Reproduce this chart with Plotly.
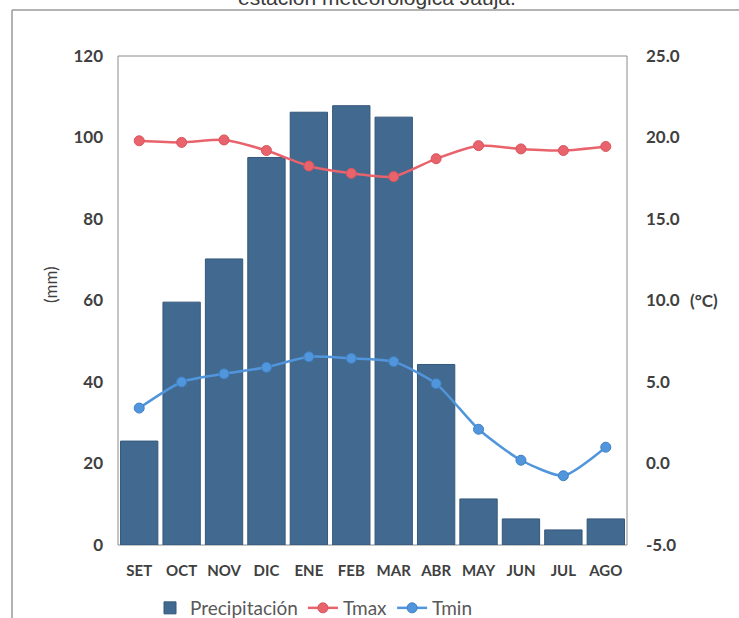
import plotly.graph_objects as go

# Monthly climate data (hydrological year, Sept to Aug)
months = ["SET", "OCT", "NOV", "DIC", "ENE", "FEB", "MAR", "ABR", "MAY", "JUN", "JUL", "AGO"]
precipitacion = [25.5, 59.6, 70.2, 95.1, 106.2, 107.8, 105.0, 44.3, 11.3, 6.4, 3.7, 6.4]
tmax = [19.8, 19.7, 19.85, 19.2, 18.25, 17.8, 17.6, 18.7, 19.5, 19.3, 19.2, 19.45]
tmin = [3.4, 5.0, 5.5, 5.9, 6.55, 6.45, 6.25, 4.9, 2.1, 0.2, -0.75, 1.0]

precip_ticks = [0, 20, 40, 60, 80, 100, 120]
temp_ticks = [-5, 0, 5, 10, 15, 20, 25]
temp_labels = [f"{v:.1f}" for v in temp_ticks]

BAR = "#426a90"
RED = "#e8636b"
BLUE = "#5196dc"
TXT = "#404040"

tick_font = dict(family="Lato", size=17, color=TXT, weight="bold")

fig = go.Figure()

fig.add_trace(go.Bar(
    x=months, y=precipitacion, name="Precipitación",
    marker=dict(color=BAR, line=dict(color="#34577a", width=1)),
    yaxis="y",
))
fig.add_trace(go.Scatter(
    x=months, y=tmax, name="Tmax", mode="lines+markers",
    line=dict(color=RED, width=2.5, shape="spline", smoothing=0.6),
    marker=dict(size=10, color=RED, line=dict(color="#d9545c", width=1)),
    yaxis="y2",
))
fig.add_trace(go.Scatter(
    x=months, y=tmin, name="Tmin", mode="lines+markers",
    line=dict(color=BLUE, width=2.5, shape="spline", smoothing=0.6),
    marker=dict(size=10, color=BLUE, line=dict(color="#3f80c4", width=1)),
    yaxis="y2",
))

# Pixel helpers for placing frame/labels relative to the plot area
W, H = 739, 618
L, R, T, B = 118, 112, 56, 73
PW, PH = W - L - R, H - T - B


def px_x(px):
    return (px - L) / PW


def px_y(py):
    return (H - B - py) / PH


fig.update_layout(
    width=W, height=H,
    margin=dict(l=L, r=R, t=T, b=B, autoexpand=False),
    paper_bgcolor="white", plot_bgcolor="white",
    bargap=0.12,
    showlegend=True,
    legend=dict(
        orientation="h", x=px_x(150), xanchor="left", y=px_y(589), yanchor="top",
        font=dict(family="Lato", size=19, color="#595959"),
        itemwidth=30, tracegroupgap=0, bgcolor="rgba(0,0,0,0)",
    ),
    xaxis=dict(
        type="category", range=[-0.5, 11.5], showgrid=False, zeroline=False,
        showline=False, ticks="", tickfont=dict(family="Lato", size=15, color=TXT, weight="bold"),
        ticklabelstandoff=15,
    ),
    yaxis=dict(
        range=[0, 120], tickvals=precip_ticks, showgrid=False, zeroline=False,
        showline=False, ticks="", tickfont=tick_font, ticklabelstandoff=14,
    ),
    yaxis2=dict(
        range=[-5, 25], tickvals=temp_ticks, ticktext=temp_labels, overlaying="y", side="right",
        showgrid=False, zeroline=False, showline=False, ticks="",
        tickfont=tick_font, ticklabelstandoff=18,
    ),
    shapes=[
        # plot-area border
        dict(type="rect", xref="paper", yref="paper", x0=0, x1=1, y0=0, y1=1,
             line=dict(color="#8c8c8c", width=1), layer="below"),
        # outer chart frame
        dict(type="line", xref="paper", yref="paper", x0=px_x(12), x1=px_x(760),
             y0=px_y(10), y1=px_y(10), line=dict(color="#9a9a9a", width=1.5)),
        dict(type="line", xref="paper", yref="paper", x0=px_x(12), x1=px_x(12),
             y0=px_y(10), y1=px_y(640), line=dict(color="#9a9a9a", width=1.5)),
    ],
    annotations=[
        dict(text="(mm)", textangle=-90, xref="paper", yref="paper",
             x=px_x(50), y=px_y(285), xanchor="center", yanchor="middle", showarrow=False,
             font=dict(family="Lato", size=17, color=TXT)),
        dict(text="(°C)", xref="paper", yref="y2", x=px_x(688), y=10,
             xanchor="left", showarrow=False,
             font=dict(family="Lato", size=17, color=TXT, weight="bold")),
        dict(text="estación meteorológica Jauja.", xref="paper", yref="paper",
             x=px_x(377), y=px_y(11), xanchor="center", yanchor="bottom", showarrow=False,
             font=dict(family="Liberation Sans", size=21, color="#3a3a3a")),
    ],
)

fig.write_html("out.html")
